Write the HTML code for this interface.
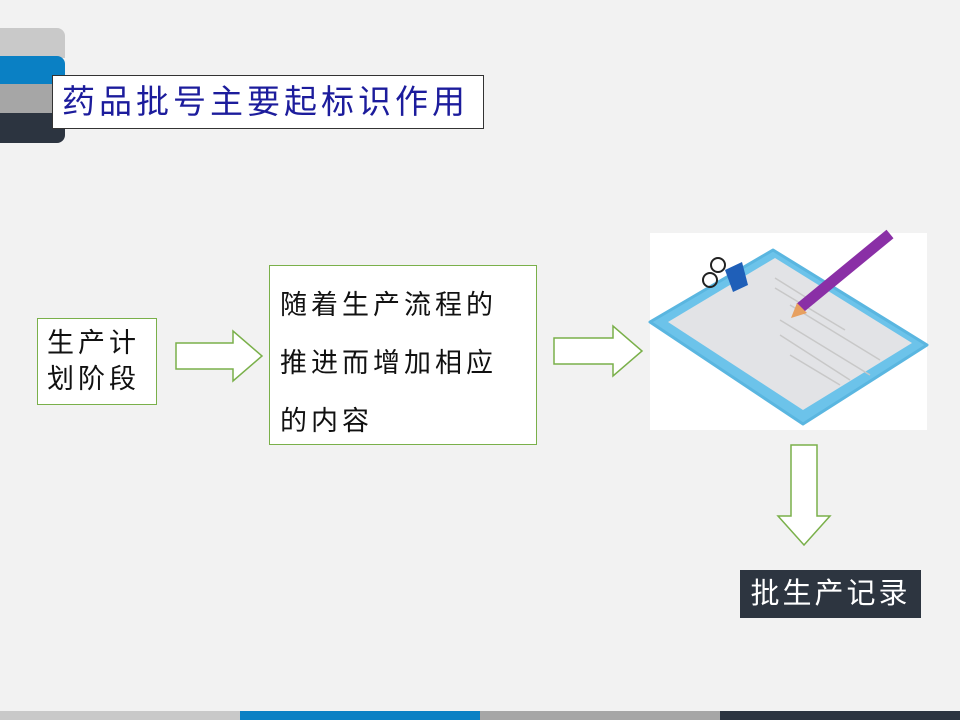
<!DOCTYPE html>
<html><head><meta charset="utf-8"><style>
body{margin:0;width:960px;height:720px;background:#f2f2f2;position:relative;overflow:hidden;font-family:"Liberation Sans","Noto Sans CJK SC",sans-serif}
.a{position:absolute}
</style></head><body>
<div class="a" style="left:0;top:28px;width:65px;height:30px;background:#c9c9c9;border-radius:0 8px 0 0"></div>
<div class="a" style="left:0;top:56px;width:65px;height:30px;background:#0a80c4;border-radius:0 8px 0 0"></div>
<div class="a" style="left:0;top:84px;width:65px;height:30px;background:#a6a6a6"></div>
<div class="a" style="left:0;top:113px;width:65px;height:30px;background:#2c3440;border-radius:0 0 8px 0"></div>
<div class="a" style="left:52px;top:75px;width:432px;height:54px;background:#fff;border:1px solid #333;box-sizing:border-box;color:#1c1c9c;font-size:33px;line-height:52px;padding-left:9px;letter-spacing:4px;white-space:nowrap">药品批号主要起标识作用</div>
<div class="a" style="left:37px;top:318px;width:120px;height:87px;background:#fff;border:1px solid #7ab04a;box-sizing:border-box;font-size:27px;line-height:36px;padding:6px 0 0 9px;color:#111;letter-spacing:4px;white-space:nowrap">生产计<br>划阶段</div>
<div class="a" style="left:269px;top:265px;width:268px;height:180px;background:#fff;border:1px solid #7ab04a;box-sizing:border-box;font-size:27px;line-height:58px;padding:10px 0 0 10px;color:#111;letter-spacing:4px;white-space:nowrap">随着生产流程的<br>推进而增加相应<br>的内容</div>
<svg class="a" style="left:0;top:0" width="960" height="720">
<polygon points="176,343 233,343 233,331 262,356 233,381 233,369 176,369" fill="#fff" stroke="#7ab04a" stroke-width="1.5"/>
<polygon points="554,338 613,338 613,326 642,351 613,376 613,364 554,364" fill="#fff" stroke="#7ab04a" stroke-width="1.5"/>
<polygon points="791,445 817,445 817,516 830,516 804,545 778,516 791,516" fill="#fff" stroke="#7ab04a" stroke-width="1.5"/>
<rect x="650" y="233" width="277" height="197" fill="#fff"/>
<polygon points="650,322 773,250 927,345 803,424" fill="#6cc3ea" stroke="#5ab6e0" stroke-width="3" stroke-linejoin="round"/>
<polygon points="668,322 775,258 912,343 803,410" fill="#e2e3e6"/>
<g stroke="#c8c8c8" stroke-width="1.5">
<line x1="775" y1="278" x2="815" y2="303"/><line x1="775" y1="288" x2="845" y2="330"/><line x1="790" y1="305" x2="880" y2="360"/><line x1="780" y1="320" x2="870" y2="375"/><line x1="780" y1="335" x2="850" y2="380"/><line x1="790" y1="355" x2="840" y2="385"/>
</g>
<polygon points="725,270 742,262 748,285 733,292" fill="#1f5fb8"/>
<circle cx="710" cy="280" r="7" fill="none" stroke="#222" stroke-width="2"/><circle cx="718" cy="265" r="7" fill="none" stroke="#222" stroke-width="2"/>
<line x1="800" y1="308" x2="890" y2="234" stroke="#8a2fa6" stroke-width="11"/>
<polygon points="791,318 797,303 807,313" fill="#e7a060"/>
</svg>
<div class="a" style="left:740px;top:570px;width:181px;height:48px;background:#2d3540;color:#fff;font-size:29px;line-height:48px;text-align:center;letter-spacing:3px;white-space:nowrap">批生产记录</div>
<div class="a" style="left:0;top:711px;width:240px;height:9px;background:#c9c9c9"></div>
<div class="a" style="left:240px;top:711px;width:240px;height:9px;background:#0a80c4"></div>
<div class="a" style="left:480px;top:711px;width:240px;height:9px;background:#a6a6a6"></div>
<div class="a" style="left:720px;top:711px;width:240px;height:9px;background:#2c3440"></div>
</body></html>
